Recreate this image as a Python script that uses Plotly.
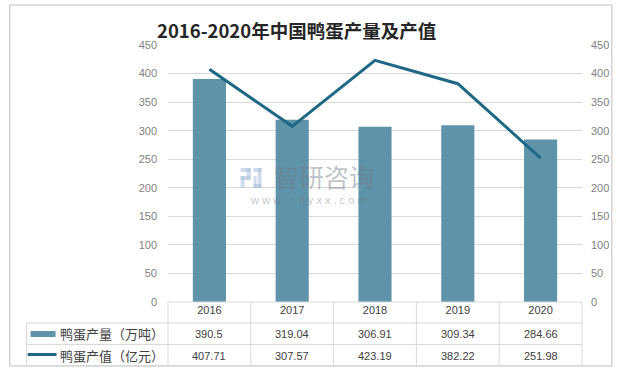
import plotly.graph_objects as go

years = ["2016", "2017", "2018", "2019", "2020"]
output = [390.5, 319.04, 306.91, 309.34, 284.66]
value = [407.71, 307.57, 423.19, 382.22, 251.98]
output_labels = ["390.5", "319.04", "306.91", "309.34", "284.66"]
value_labels = ["407.71", "307.57", "423.19", "382.22", "251.98"]
series_names = ["鸭蛋产量（万吨）", "鸭蛋产值（亿元）"]
ticks = [0, 50, 100, 150, 200, 250, 300, 350, 400, 450]

W, H = 621, 371
L, R, T, B = 168, 584, 45, 302
BAR_C = "#5E93A9"
LINE_C = "#1E6886"
GRID = "#D9D9D9"
FONT = "Liberation Sans, Noto Sans CJK SC"

def px(x):
    return (x - L) / (R - L)

def py(y):
    return (B - y) / (B - T)

xs = list(range(len(years)))
fig = go.Figure()
fig.add_trace(go.Bar(x=xs, y=output, marker=dict(color=BAR_C, line=dict(width=0)),
                     width=0.4, name=series_names[0], yaxis="y"))
fig.add_trace(go.Scatter(x=xs, y=value, mode="lines", line=dict(color=LINE_C, width=3),
                         name=series_names[1], yaxis="y2"))

fig.update_layout(
    width=W, height=H,
    margin=dict(l=L, r=W - R, t=T, b=H - B),
    paper_bgcolor="white", plot_bgcolor="white",
    showlegend=False,
    font=dict(family=FONT, color="#595959", size=11),
    xaxis=dict(range=[-0.5, 4.5], tickmode="array", tickvals=xs, ticktext=years,
               showgrid=False, zeroline=False, showline=False, ticks="",
               tickfont=dict(size=11, color="#404040"), fixedrange=True),
    yaxis=dict(range=[0, 450], tickvals=ticks, showgrid=True, gridcolor=GRID,
               gridwidth=1, zeroline=False, showline=False, ticks="",
               ticklabelstandoff=10, tickfont=dict(size=11, color="#7F7F7F")),
    yaxis2=dict(range=[0, 450], tickvals=ticks, overlaying="y", side="right",
                showgrid=False, zeroline=False, showline=False, ticks="",
                ticklabelstandoff=8, tickfont=dict(size=11, color="#7F7F7F")),
)

def ann(text, x, y, size, color, family=FONT, xanchor="center", xref="paper", opacity=1):
    fig.add_annotation(text=text, xref=xref, yref="paper", x=x, y=y, xanchor=xanchor,
                       yanchor="middle", showarrow=False, opacity=opacity,
                       font=dict(size=size, color=color, family=family))

# title
ann("<b>2016-2020年中国鸭蛋产量及产值</b>", px(297), py(30), 18.5, "#262626", "Noto Sans CJK SC")

shapes = []
shapes.append(dict(type="rect", xref="paper", yref="paper", x0=px(9), x1=px(614),
                   y0=py(366), y1=py(5), line=dict(color="#BFBFBF", width=1)))
ln = dict(color=GRID, width=1)
shapes.append(dict(type="line", xref="paper", yref="paper", x0=px(L), x1=px(R), y0=py(302), y1=py(302), line=ln))
for yy in [323, 344.5, 365.5]:
    shapes.append(dict(type="line", xref="paper", yref="paper", x0=px(26), x1=px(R), y0=py(yy), y1=py(yy), line=ln))
colw = (R - L) / 5
for i in range(6):
    xx = L + i * colw
    shapes.append(dict(type="line", xref="paper", yref="paper", x0=px(xx), x1=px(xx), y0=py(302), y1=py(365.5), line=ln))
shapes.append(dict(type="line", xref="paper", yref="paper", x0=px(26), x1=px(26), y0=py(323), y1=py(365.5), line=ln))
# legend keys
shapes.append(dict(type="rect", xref="paper", yref="paper", x0=px(30), x1=px(55), y0=py(337), y1=py(331),
                   fillcolor=BAR_C, line=dict(width=0)))
shapes.append(dict(type="line", xref="paper", yref="paper", x0=px(27), x1=px(56), y0=py(354.5), y1=py(354.5),
                   line=dict(color=LINE_C, width=3)))

# watermark logo (approximate)
WM = "rgba(170,190,220,0.55)"
for (x0, y0, x1, y1) in [(241, 168, 251, 172), (247, 168, 251, 180), (241, 176, 251, 180),
                         (241, 176, 245, 188), (254, 168, 262, 172), (258, 168, 262, 188),
                         (254, 184, 262, 188), (254, 176, 257, 188)]:
    shapes.append(dict(type="rect", xref="paper", yref="paper", x0=px(x0), x1=px(x1),
                       y0=py(y1), y1=py(y0), fillcolor=WM, line=dict(width=0)))
fig.update_layout(shapes=shapes)

for name, yy in zip(series_names, [333.5, 355]):
    ann(name, px(57), py(yy), 13, "#404040", "Noto Sans CJK SC", xanchor="left")
for labels, yy in zip([output_labels, value_labels], [334, 355.5]):
    for i, t in enumerate(labels):
        ann(t, xs[i], py(yy), 11, "#404040", xref="x")

# watermark text
ann("智研咨询", px(325), py(176), 25, "rgba(110,120,135,0.45)", "Noto Sans CJK SC")
ann("w w w . c h y x x . c o m", px(309), py(200), 11, "rgba(110,120,135,0.45)")

fig.write_html("out.html", config={"displayModeBar": False},
               post_script="document.body.style.margin='0';document.body.style.overflow='hidden';")
